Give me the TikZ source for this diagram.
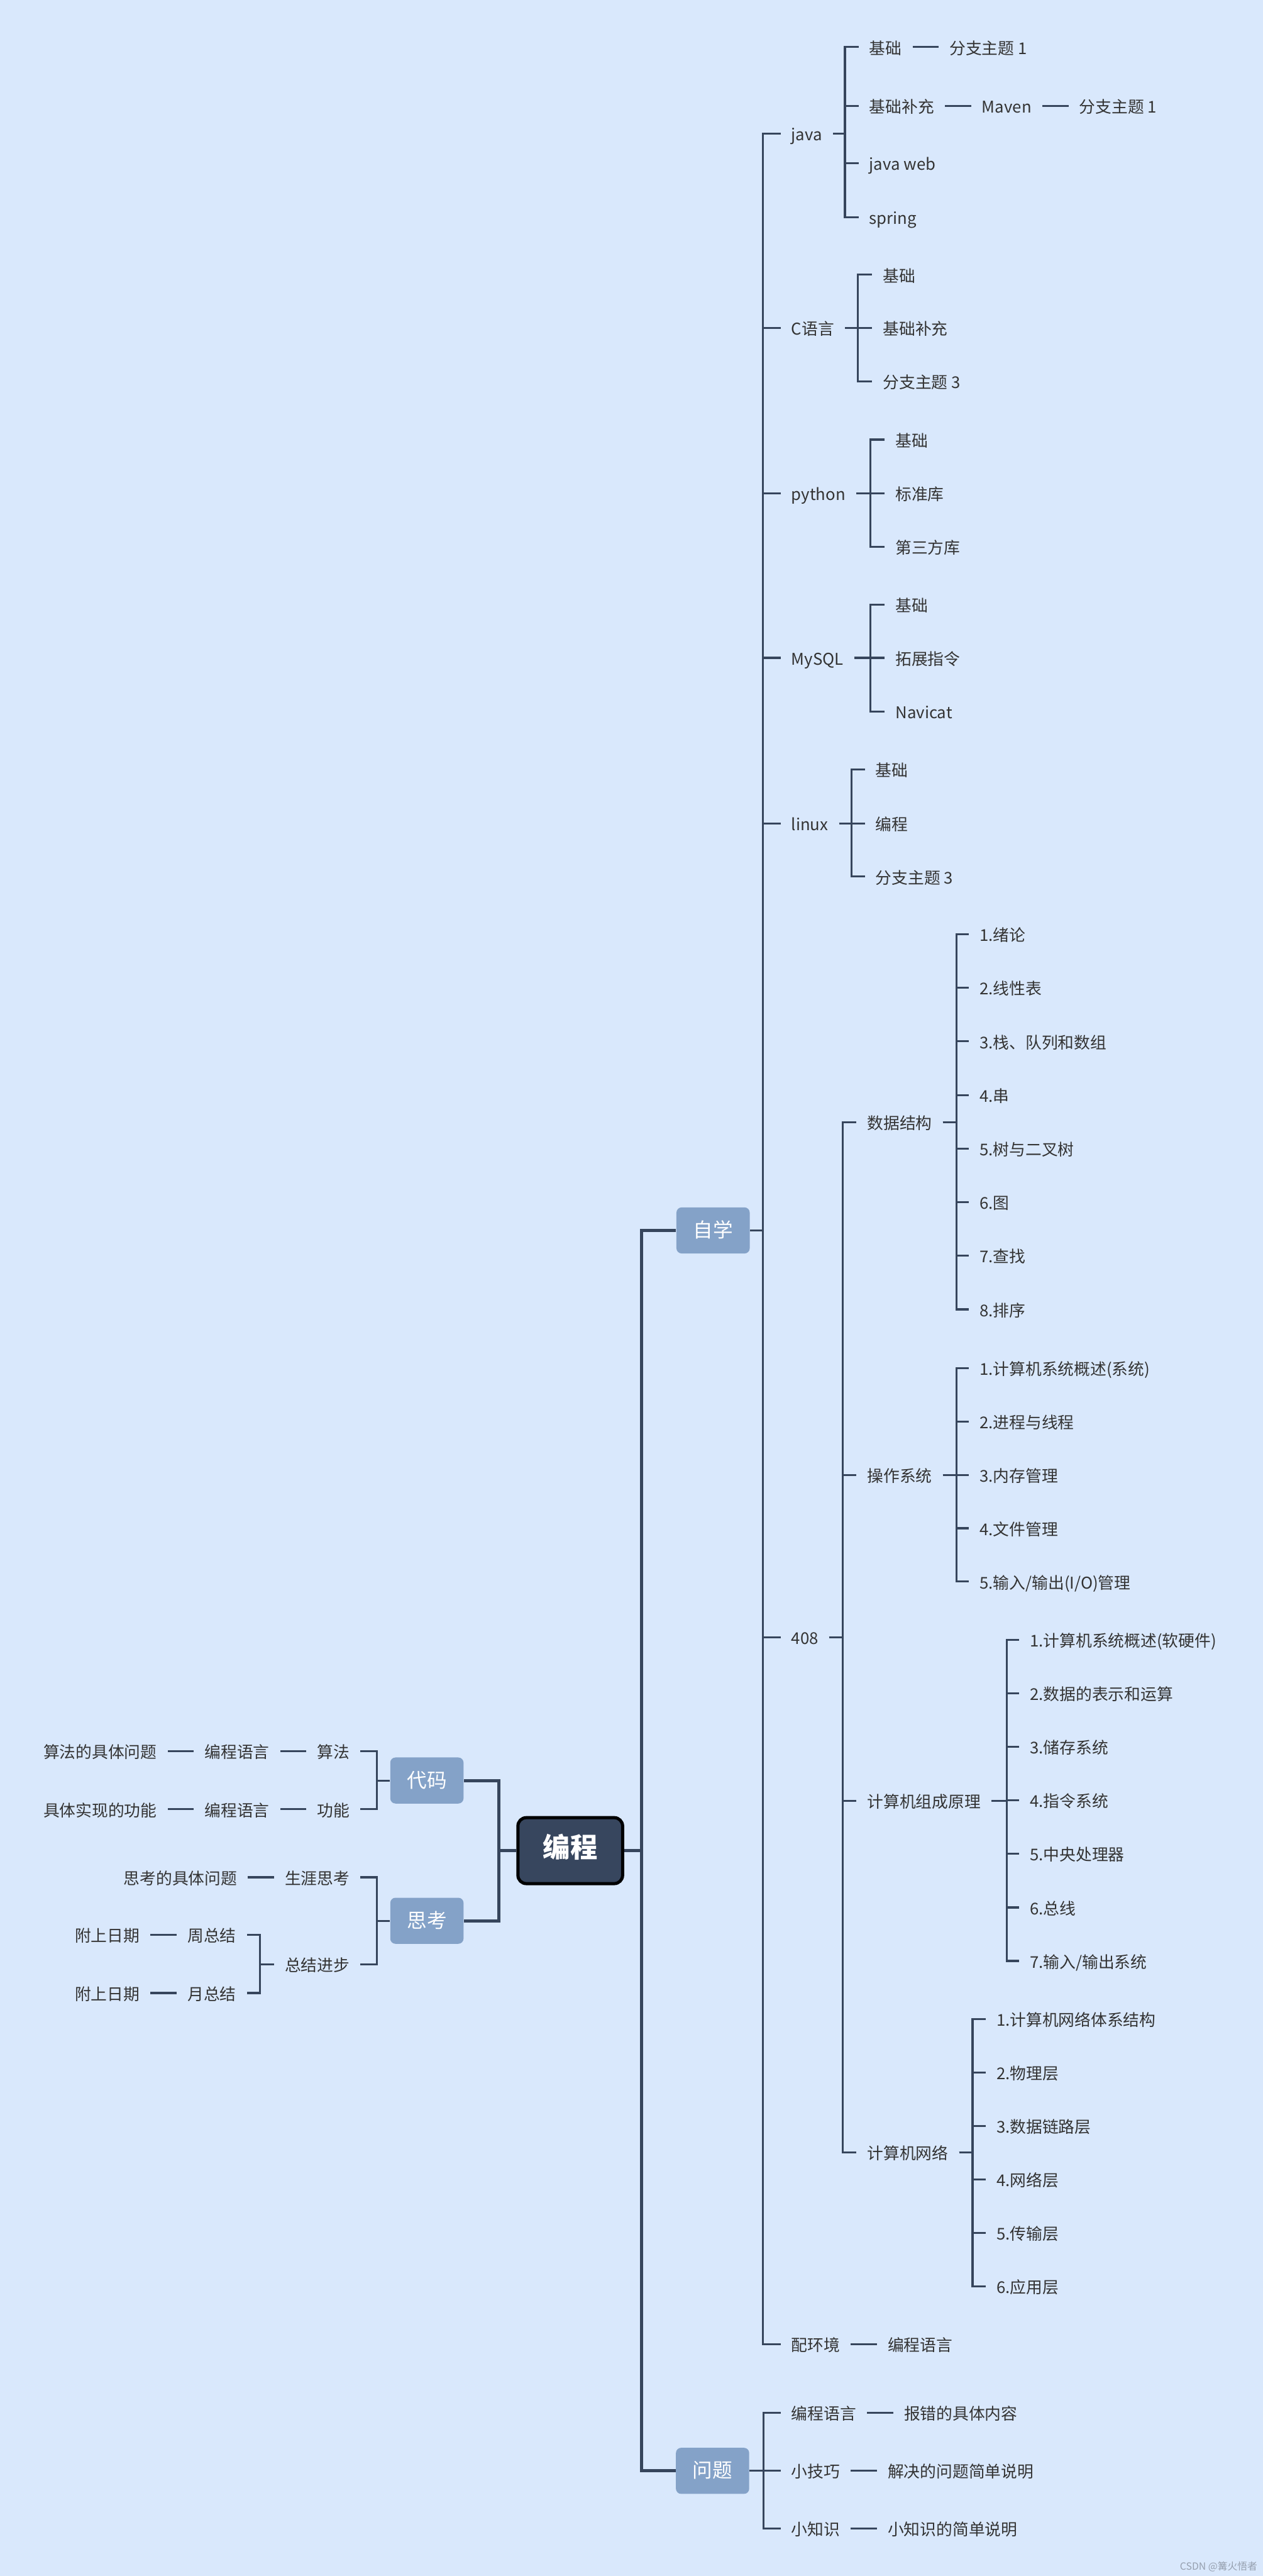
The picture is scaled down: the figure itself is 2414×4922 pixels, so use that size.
\documentclass[tikz,border=0pt]{standalone}
\usepackage{fontspec}
\setmainfont{Noto Sans CJK SC}
\usetikzlibrary{positioning}
\definecolor{bg}{RGB}{217,232,252}
\definecolor{linec}{RGB}{54,69,92}
\definecolor{rootc}{RGB}{55,70,94}
\definecolor{boxc}{RGB}{132,162,200}
\definecolor{txtc}{RGB}{51,51,51}
\definecolor{wmc}{RGB}{150,160,175}

% fork from a parent to its children through a vertical bar at the x of #2
\newcommand\forkR[3]{\foreach \c in {#3}{\draw[br] (#1.east) -| (#2 |- \c.west) -- (\c.west);}}
\newcommand\forkL[3]{\foreach \c in {#3}{\draw[br] (#1.west) -| (#2 |- \c.east) -- (\c.east);}}

\tikzset{
  txt/.style={inner xsep=0.2cm, inner ysep=0pt, text=txtc,
    font=\fontsize{8.8pt}{10pt}\selectfont, text height=0.84em, text depth=0.08em},
  topic/.style={fill=boxc, rounded corners=0.1cm, text=white, inner sep=0pt,
    font=\fontsize{10.8pt}{12pt}\selectfont, minimum width=1.4cm, minimum height=0.88cm,
    text height=0.84em, text depth=0.08em},
  rootbox/.style={fill=rootc, draw=black, line width=1.7pt, rounded corners=0.16cm,
    text=white, inner sep=0pt, font=\fontsize{14.8pt}{16pt}\selectfont\bfseries,
    minimum width=2cm, minimum height=1.26cm, text height=0.84em, text depth=0.08em},
  br/.style={draw=linec, line width=1.08pt},
  trunk/.style={draw=linec, line width=1.7pt},
  chain/.style={txt, right=0.5cm of #1},
  lchain/.style={txt, left=0.5cm of #1},
}

\begin{document}
\begin{tikzpicture}[x=0.01cm, y=-0.01cm]
\fill[bg] (0,0) rectangle (2414,4922);
\useasboundingbox (0,0) rectangle (2414,4922);

% vertical bars of the forks
\coordinate (vR) at (1226,0);
\coordinate (vL) at (954,0);
\coordinate (vZX) at (1458,0);
\coordinate (vWT) at (1459,0);
\coordinate (vJava) at (1615,0);
\coordinate (vC) at (1640,0);
\coordinate (vPy) at (1664,0);
\coordinate (vSql) at (1664,0);
\coordinate (vLx) at (1628,0);
\coordinate (v408) at (1611,0);
\coordinate (vDS) at (1828,0);
\coordinate (vOS) at (1828,0);
\coordinate (vCO) at (1924,0);
\coordinate (vCN) at (1859,0);
\coordinate (vDM) at (720,0);
\coordinate (vSK) at (720,0);
\coordinate (vZJ) at (497,0);

% central topic and main branches
\node[rootbox] (root) at (1090,3536) {编程};
\node[topic] (zx) at (1363,2351) {自学};
\node[topic] (wt) at (1362,4721) {问题};
\node[topic] (dm) at (816,3402) {代码};
\node[topic] (sk) at (816,3670) {思考};

% 自学
\node[txt, anchor=west] (java) at (1492,255) {java};
\node[txt, anchor=west] (clang) at (1492,627) {C语言};
\node[txt, anchor=west] (py) at (1492,943) {python};
\node[txt, anchor=west] (sql) at (1492,1257) {MySQL};
\node[txt, anchor=west] (lx) at (1492,1574) {linux};
\node[txt, anchor=west] (k408) at (1492,3128) {408};
\node[txt, anchor=west] (env) at (1492,4479) {配环境};
\node[chain=env] (env2) {编程语言};

% java
\node[txt, anchor=west] (j1) at (1641,90) {基础};
\node[txt, anchor=west] (j2) at (1641,202) {基础补充};
\node[txt, anchor=west] (j3) at (1641,312) {java web};
\node[txt, anchor=west] (j4) at (1641,415) {spring};
\node[chain=j1] (j1a) {分支主题 1};
\node[chain=j2] (j2a) {Maven};
\node[chain=j2a] (j2b) {分支主题 1};

% C语言
\node[txt, anchor=west] (c1) at (1667,525) {基础};
\node[txt, anchor=west] (c2) at (1667,627) {基础补充};
\node[txt, anchor=west] (c3) at (1667,729) {分支主题 3};

% python
\node[txt, anchor=west] (p1) at (1691,840) {基础};
\node[txt, anchor=west] (p2) at (1691,943) {标准库};
\node[txt, anchor=west] (p3) at (1691,1045) {第三方库};

% MySQL
\node[txt, anchor=west] (s1) at (1691,1155) {基础};
\node[txt, anchor=west] (s2) at (1691,1257) {拓展指令};
\node[txt, anchor=west] (s3) at (1691,1360) {Navicat};

% linux
\node[txt, anchor=west] (l1) at (1653,1470) {基础};
\node[txt, anchor=west] (l2) at (1653,1574) {编程};
\node[txt, anchor=west] (l3) at (1653,1675) {分支主题 3};

% 408
\node[txt, anchor=west] (ds) at (1637,2144) {数据结构};
\node[txt, anchor=west] (os) at (1637,2818) {操作系统};
\node[txt, anchor=west] (co) at (1637,3441) {计算机组成原理};
\node[txt, anchor=west] (cn) at (1637,4113) {计算机网络};

\foreach \t [count=\i from 0] in {1.绪论, 2.线性表, 3.栈、队列和数组, 4.串, 5.树与二叉树, 6.图, 7.查找, 8.排序}
  \node[txt, anchor=west] (ds\i) at (1852,1785+102.4*\i) {\t};
\foreach \t [count=\i from 0] in {1.计算机系统概述(系统), 2.进程与线程, 3.内存管理, 4.文件管理, 5.输入/输出(I/O)管理}
  \node[txt, anchor=west] (os\i) at (1852,2614+102*\i) {\t};
\foreach \t [count=\i from 0] in {1.计算机系统概述(软硬件), 2.数据的表示和运算, 3.储存系统, 4.指令系统, 5.中央处理器, 6.总线, 7.输入/输出系统}
  \node[txt, anchor=west] (co\i) at (1948,3133+102.3*\i) {\t};
\foreach \t [count=\i from 0] in {1.计算机网络体系结构, 2.物理层, 3.数据链路层, 4.网络层, 5.传输层, 6.应用层}
  \node[txt, anchor=west] (cn\i) at (1884,3858+102.2*\i) {\t};

% 问题
\node[txt, anchor=west] (q1) at (1492,4610) {编程语言};
\node[txt, anchor=west] (q2) at (1492,4721) {小技巧};
\node[txt, anchor=west] (q3) at (1492,4831) {小知识};
\node[chain=q1] (q1a) {报错的具体内容};
\node[chain=q2] (q2a) {解决的问题简单说明};
\node[chain=q3] (q3a) {小知识的简单说明};

% 代码
\node[txt, anchor=east] (d1) at (689,3346) {算法};
\node[txt, anchor=east] (d2) at (689,3457) {功能};
\node[lchain=d1] (d1a) {编程语言};
\node[lchain=d1a] (d1b) {算法的具体问题};
\node[lchain=d2] (d2a) {编程语言};
\node[lchain=d2a] (d2b) {具体实现的功能};

% 思考
\node[txt, anchor=east] (k1) at (689,3587) {生涯思考};
\node[txt, anchor=east] (k2) at (689,3753) {总结进步};
\node[lchain=k1] (k1a) {思考的具体问题};
\node[txt, anchor=east] (z1) at (472,3697) {周总结};
\node[txt, anchor=east] (z2) at (472,3808) {月总结};
\node[lchain=z1] (z1a) {附上日期};
\node[lchain=z2] (z2a) {附上日期};

% connectors
\foreach \c in {zx, wt}{\draw[trunk] (root.east) -| (vR |- \c.west) -- (\c.west);}
\foreach \c in {dm, sk}{\draw[trunk] (root.west) -| (vL |- \c.east) -- (\c.east);}

\forkR{zx}{vZX}{java, clang, py, sql, lx, k408, env}
\forkR{wt}{vWT}{q1, q2, q3}
\forkR{java}{vJava}{j1, j2, j3, j4}
\forkR{clang}{vC}{c1, c2, c3}
\forkR{py}{vPy}{p1, p2, p3}
\forkR{sql}{vSql}{s1, s2, s3}
\forkR{lx}{vLx}{l1, l2, l3}
\forkR{k408}{v408}{ds, os, co, cn}
\forkR{ds}{vDS}{ds0, ds1, ds2, ds3, ds4, ds5, ds6, ds7}
\forkR{os}{vOS}{os0, os1, os2, os3, os4}
\forkR{co}{vCO}{co0, co1, co2, co3, co4, co5, co6}
\forkR{cn}{vCN}{cn0, cn1, cn2, cn3, cn4, cn5}
\forkL{dm}{vDM}{d1, d2}
\forkL{sk}{vSK}{k1, k2}
\forkL{k2}{vZJ}{z1, z2}

\foreach \a/\b in {j1/j1a, j2/j2a, j2a/j2b, env/env2, q1/q1a, q2/q2a, q3/q3a}
  \draw[br] (\a.east) -- (\b.west);
\foreach \a/\b in {d1/d1a, d1a/d1b, d2/d2a, d2a/d2b, k1/k1a, z1/z1a, z2/z2a}
  \draw[br] (\a.west) -- (\b.east);

% signature
\node[anchor=east, inner sep=0pt, text=wmc, font=\fontsize{5.4pt}{6pt}\selectfont] (wm) at (2404,4904) {CSDN @篝火悟者};
\end{tikzpicture}
\end{document}
